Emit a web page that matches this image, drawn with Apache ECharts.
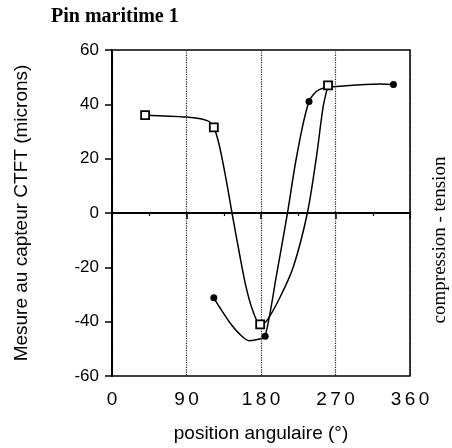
<!DOCTYPE html>
<html><head><meta charset="utf-8">
<script src="https://cdn.jsdelivr.net/npm/echarts@6/dist/echarts.min.js"></script>
<style>html,body{margin:0;padding:0;background:#fff}#c{width:452px;height:448px}</style>
</head><body><div id="c"></div>
<script>
// Square-marker series: marker points plus readings of the drawn curve (no marker)
const squareX = [40, 90, 115, 123, 130, 138, 145, 154, 162, 170, 179, 187, 203, 219, 236, 247, 255, 261];
const squareY = [36, 35.3, 34, 31.5, 24.4, 12.1, 0, -15, -27.3, -35.9, -41, -39.6, -31, -19.9, 0, 20.7, 39, 47];
const squareMarked = [1, 0, 0, 1, 0, 0, 0, 0, 0, 0, 1, 0, 0, 0, 0, 0, 0, 1];
// Circle-marker series
const circleX = [123, 130, 142, 154, 166, 178, 185, 199, 212, 223, 238, 251, 283, 324, 340];
const circleY = [-31.2, -34.7, -40.2, -44.5, -47, -46.4, -45.4, -22.4, 0, 20.7, 41, 45.5, 46.8, 47.5, 47.3];
const circleMarked = [1, 0, 0, 0, 0, 0, 1, 0, 0, 0, 1, 0, 0, 0, 1];
const xTicks = [0, 90, 180, 270, 360];
const yTicks = [-60, -40, -20, 0, 20, 40, 60];

function build(xs, ys, marks) {
  return xs.map((x, i) => marks[i] ? [x, ys[i]] : {value: [x, ys[i]], symbol: 'none'});
}
function spacedLabel(v) {
  return String(v).split('').map(c => '{d|' + c + '}').join('');
}
const chart = echarts.init(document.getElementById('c'));
chart.setOption({
  animation: false,
  backgroundColor: '#fff',
  title: {text: 'Pin maritime 1', left: 46, top: 2,
    textStyle: {fontFamily: 'Liberation Serif', fontWeight: 'bold', fontSize: 20, color: '#000'}},
  grid: {left: 112, right: 42, top: 50, bottom: 72, show: true, borderColor: '#000', borderWidth: 1.5},
  xAxis: {type: 'value', min: xTicks[0], max: xTicks[xTicks.length - 1], interval: 90,
    name: 'position angulaire (°)', nameLocation: 'middle', nameGap: 48,
    nameTextStyle: {fontFamily: 'Liberation Sans', fontSize: 19, color: '#000'},
    axisLine: {lineStyle: {color: '#000', width: 2}},
    axisTick: {length: 6, lineStyle: {color: '#000', width: 1.5}},
    minorTick: {show: true, splitNumber: 2, length: 3, lineStyle: {color: '#000', width: 1.2}},
    axisLabel: {fontFamily: 'Liberation Sans', fontSize: 19, color: '#000', margin: 14,
      formatter: spacedLabel,
      rich: {
        d: {fontFamily: 'Liberation Sans', fontSize: 19, color: '#000', width: 14, align: 'center'}
      }},
    splitLine: {show: true, lineStyle: {type: 'dotted', color: '#222', width: 1.2}}},
  yAxis: {type: 'value', min: yTicks[0], max: yTicks[yTicks.length - 1], interval: 20,
    name: 'Mesure au capteur CTFT (microns)', nameLocation: 'middle', nameGap: 81,
    nameTextStyle: {fontFamily: 'Liberation Sans', fontSize: 19, color: '#000'},
    axisLine: {lineStyle: {color: '#000', width: 2}},
    axisTick: {length: 7, lineStyle: {color: '#000', width: 1.5}},
    axisLabel: {fontFamily: 'Liberation Sans', fontSize: 17, color: '#000', margin: 13},
    splitLine: {show: false}},
  graphic: [{type: 'text', x: 440, y: 240, rotation: Math.PI / 2,
    style: {text: 'compression - tension', fontFamily: 'Liberation Serif', fontSize: 19, fill: '#000',
      align: 'center', verticalAlign: 'middle'}}],
  series: [
    {type: 'line', data: build(squareX, squareY, squareMarked), smooth: 0.3,
      symbol: 'rect', symbolSize: 8, z: 3,
      itemStyle: {color: '#fff', borderColor: '#000', borderWidth: 1.8},
      lineStyle: {color: '#000', width: 1.5},
      markLine: {silent: true, symbol: 'none', label: {show: false},
        lineStyle: {color: '#000', type: 'solid', width: 1.5}, data: [{yAxis: 0}]}},
    {type: 'line', data: build(circleX, circleY, circleMarked), smooth: 0.3,
      symbol: 'circle', symbolSize: 7,
      itemStyle: {color: '#000'},
      lineStyle: {color: '#000', width: 1.5}}
  ]
});
</script></body></html>
